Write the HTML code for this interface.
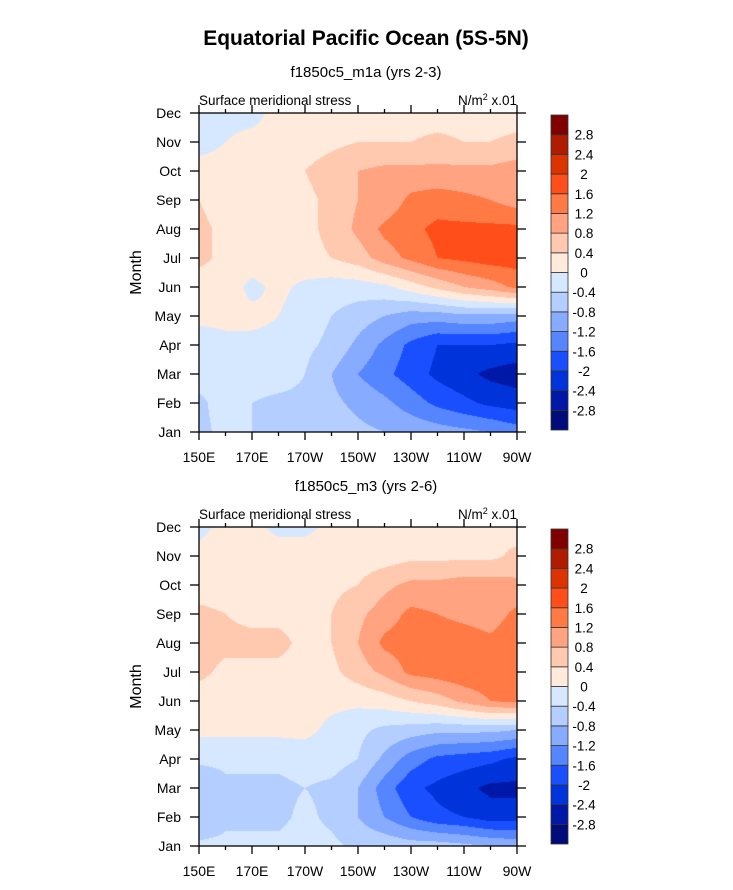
<!DOCTYPE html>
<html><head><meta charset="utf-8">
<style>
html,body{margin:0;padding:0;background:#fff;}
#wrap{position:relative;width:733px;height:890px;overflow:hidden;font-family:"Liberation Sans",Arial,sans-serif;}
canvas{position:absolute;}
svg{position:absolute;left:0;top:0;}
</style></head>
<body>
<div id="wrap">
<canvas id="c1" width="318" height="319" style="left:199px;top:113px"></canvas>
<canvas id="c2" width="318" height="319" style="left:199px;top:527px"></canvas>
<svg id="ov" width="733" height="890">
<text x="366" y="45" text-anchor="middle" font-size="21" font-weight="bold">Equatorial Pacific Ocean (5S-5N)</text>
</svg>
</div>
<script>
const months = ["Jan","Feb","Mar","Apr","May","Jun","Jul","Aug","Sep","Oct","Nov","Dec"];
const lons = [150,160,170,180,190,200,210,220,230,240,250,260,270];
const lonTicks = [150,170,190,210,230,250,270];
const lonTickLabels = ["150E","170E","170W","150W","130W","110W","90W"];
const levels = [-2.8,-2.4,-2,-1.6,-1.2,-0.8,-0.4,0,0.4,0.8,1.2,1.6,2,2.4,2.8];
const levelLabels = ["-2.8","-2.4","-2","-1.6","-1.2","-0.8","-0.4","0","0.4","0.8","1.2","1.6","2","2.4","2.8"];
const colors = ["#000c7a","#0018a8","#0033d9","#1a4fff","#5585ff","#87abff","#b4ceff","#d6e8ff","#ffeadb","#ffc9b0","#ffa381","#ff7a45","#ff4e1a","#dd3300","#b01c00","#800000"];
const data1 = [
[-0.5,-0.3,-0.4,-0.5,-0.4,-0.6,-0.7,-0.8,-0.9,-1.0,-1.1,-1.2,-1.4],
[-0.5,-0.2,-0.4,-0.5,-0.5,-0.7,-0.9,-1.1,-1.4,-1.7,-1.9,-2.1,-2.2],
[-0.2,-0.2,-0.2,-0.2,-0.4,-0.8,-1.2,-1.5,-1.8,-2.1,-2.3,-2.5,-2.6],
[-0.2,-0.1,-0.1,-0.1,-0.3,-0.5,-0.9,-1.3,-1.7,-2.0,-2.0,-2.0,-2.1],
[0.1,0.1,0.1,0.0,-0.2,-0.4,-0.6,-0.8,-1.0,-1.0,-0.9,-0.9,-1.0],
[0.2,0.2,-0.1,0.1,-0.1,-0.2,-0.2,-0.1,0.2,0.5,0.8,1.0,1.3],
[0.5,0.3,0.2,0.3,0.3,0.4,0.6,1.0,1.3,1.6,1.7,1.8,1.8],
[0.5,0.3,0.2,0.2,0.3,0.5,0.9,1.3,1.5,1.7,1.7,1.7,1.7],
[0.4,0.2,0.2,0.2,0.3,0.5,0.8,0.9,1.3,1.4,1.3,1.2,1.0],
[0.1,0.1,0.1,0.2,0.4,0.6,0.8,0.9,0.9,0.9,0.9,0.9,1.0],
[-0.1,0.0,0.1,0.1,0.2,0.3,0.4,0.4,0.4,0.5,0.4,0.4,0.5],
[-0.1,-0.1,-0.1,0.1,0.1,0.1,0.2,0.2,0.2,0.2,0.2,0.2,0.2]];
const data2 = [
[-0.3,-0.3,-0.3,-0.3,-0.2,-0.3,-0.5,-0.5,-0.6,-0.6,-0.7,-0.8,-0.9],
[-0.8,-0.5,-0.5,-0.5,-0.3,-0.5,-0.8,-1.2,-1.6,-1.9,-2.0,-2.2,-2.2],
[-0.8,-0.5,-0.5,-0.5,-0.4,-0.5,-0.8,-1.4,-1.9,-2.1,-2.3,-2.5,-2.5],
[-0.3,-0.3,-0.3,-0.3,-0.2,-0.2,-0.4,-0.9,-1.4,-1.7,-1.8,-1.9,-2.1],
[0.1,0.1,0.1,0.1,0.1,-0.1,-0.3,-0.5,-0.6,-0.7,-0.7,-0.7,-0.8],
[0.2,0.2,0.2,0.2,0.2,0.1,0.1,0.2,0.4,0.6,0.9,1.2,1.3],
[0.5,0.3,0.3,0.3,0.3,0.3,0.6,0.9,1.3,1.4,1.5,1.5,1.5],
[0.6,0.5,0.5,0.5,0.3,0.4,0.8,1.3,1.4,1.4,1.4,1.3,1.5],
[0.5,0.4,0.3,0.3,0.3,0.4,0.7,1.0,1.3,1.2,1.1,1.0,1.3],
[0.2,0.2,0.2,0.2,0.2,0.3,0.4,0.7,0.9,0.9,1.0,1.0,0.9],
[0.1,0.2,0.2,0.2,0.2,0.2,0.2,0.2,0.3,0.3,0.3,0.3,0.5],
[-0.1,0.1,0.1,-0.1,-0.1,0.1,0.1,0.1,0.1,0.1,0.2,0.4,0.2]];

const W=318,H=319;
function hex(c){return [parseInt(c.substr(1,2),16),parseInt(c.substr(3,2),16),parseInt(c.substr(5,2),16)];}
function colorIndex(v){let i=0;while(i<levels.length&&v>=levels[i])i++;return i;}
function xScale(lon){return (lon-lons[0])/(lons[lons.length-1]-lons[0])*W;}
function yScale(m){return H-m/(months.length-1)*H;}
function drawField(id,data){
  const ctx=document.getElementById(id).getContext('2d');
  const img=ctx.createImageData(W,H);
  const nx=lons.length-1, ny=months.length-1;
  for(let py=0;py<H;py++){
    const fm=(H-py-0.5)/H*ny; const j=Math.min(ny-1,Math.floor(fm)); const ty=fm-j;
    for(let px=0;px<W;px++){
      const fl=(px+0.5)/W*nx; const i=Math.min(nx-1,Math.floor(fl)); const tx=fl-i;
      const v=(data[j][i]*(1-tx)+data[j][i+1]*tx)*(1-ty)+(data[j+1][i]*(1-tx)+data[j+1][i+1]*tx)*ty;
      const c=hex(colors[colorIndex(v)]);
      const k=(py*W+px)*4; img.data[k]=c[0];img.data[k+1]=c[1];img.data[k+2]=c[2];img.data[k+3]=255;
    }
  }
  ctx.putImageData(img,0,0);
}
drawField('c1',data1); drawField('c2',data2);

const NS="http://www.w3.org/2000/svg";
const svg=document.getElementById('ov');
function el(tag,attrs,text){const e=document.createElementNS(NS,tag);for(const k in attrs)e.setAttribute(k,attrs[k]);if(text!==undefined)e.textContent=text;svg.appendChild(e);return e;}
function panel(top,sub,tag){
  const L=199,T=top;
  let t=el('text',{x:366,y:T-36,'text-anchor':'middle','font-size':15},sub);
  
  
  t=el('text',{x:L,y:T-8,'font-size':13.5},'Surface meridional stress');
  
  
  t=el('text',{x:L+W,y:T-8,'font-size':13.5,'text-anchor':'end'});
  t.innerHTML='N/m<tspan dy="-5" font-size="9">2</tspan><tspan dy="5"> x.01</tspan>';
  
  
  const fr=el('rect',{x:L,y:T,width:W,height:H,fill:'none',stroke:'#000','stroke-width':1.3});
  
  
  months.forEach((m,k)=>{
    const y=T+yScale(k);
    el('line',{x1:L,x2:L-9,y1:y,y2:y,stroke:'#000','stroke-width':1.3});
    el('line',{x1:L+W,x2:L+W+9,y1:y,y2:y,stroke:'#000','stroke-width':1.3});
    const lb=el('text',{x:L-18,y:y+5,'font-size':14,'text-anchor':'end'},m);
    
    
  });
  for(let lon=150;lon<=270;lon+=10){
    const x=L+xScale(lon);
    const len=(lon-150)%20===0?8:4;
    el('line',{x1:x,x2:x,y1:T+H,y2:T+H+len,stroke:'#000','stroke-width':1.3});
    el('line',{x1:x,x2:x,y1:T,y2:T-len,stroke:'#000','stroke-width':1.3});
  }
  lonTicks.forEach((lon,k)=>{
    const lb=el('text',{x:L+xScale(lon),y:T+H+30,'font-size':14,'text-anchor':'middle'},lonTickLabels[k]);
    
    
  });
  const yt=el('text',{x:0,y:0,'font-size':16,'text-anchor':'middle',transform:`translate(141,${T+H/2}) rotate(-90)`},'Month');
  
  
  const cx=551,cw=17,cTop=T+2,cH=315,n=colors.length,bh=cH/n;
  for(let k=0;k<n;k++){
    const r=el('rect',{x:cx,y:cTop+cH-(k+1)*bh,width:cw,height:bh,fill:colors[k],stroke:'#333','stroke-width':0.8});
    
    
  }
  levels.forEach((lv,k)=>{
    const y=cTop+cH-(k+1)*bh;
    const lb=el('text',{x:584,y:y+5,'font-size':13.5,'text-anchor':'middle'},levelLabels[k]);
    
    
  });
}
panel(113,'f1850c5_m1a (yrs 2-3)','top-panel');
panel(527,'f1850c5_m3 (yrs 2-6)','bottom-panel');
</script>
</body></html>
